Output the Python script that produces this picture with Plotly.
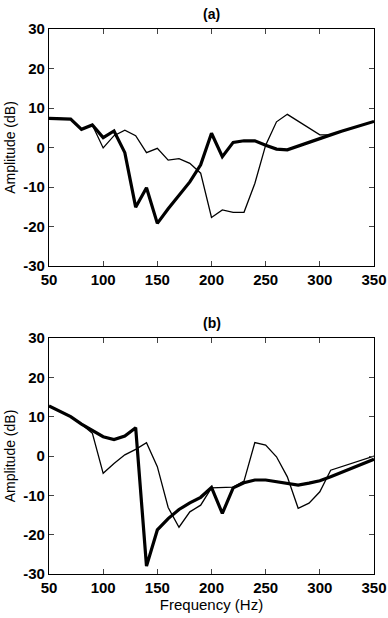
import plotly.graph_objects as go
from plotly.subplots import make_subplots

freq = [50, 60, 70, 80, 90, 100, 110, 120, 130, 140, 150, 160, 170, 180, 190, 200,
        210, 220, 230, 240, 250, 260, 270, 280, 290, 300, 310, 320, 330, 340, 350]

a_thick = [7.4, 7.4, 7.2, 4.6, 5.7, 2.5, 4.2, -1.3, -15.1, -10.2, -19.2, -15.5, -12.0, -8.7, -4.4, 3.6,
           -2.3, 1.3, 1.7, 1.7, 0.6, -0.4, -0.6, 0.4, 1.4, 2.3, 3.2, 4.1, 5.0, 5.8, 6.6]
a_thin = [7.4, 7.4, 7.2, 4.6, 5.7, -0.1, 3.0, 4.4, 3.0, -1.3, -0.2, -3.2, -2.8, -4.0, -6.5, -17.7,
          -15.8, -16.4, -16.4, -9.1, 0.6, 6.5, 8.4, 6.7, 5.0, 3.2, 3.2, 4.1, 5.0, 5.8, 6.6]

b_thick = [12.7, 11.4, 10.0, 8.1, 6.4, 4.9, 4.2, 5.1, 7.2, -28.0, -18.8, -15.9, -13.6, -11.9, -10.5, -8.0,
           -14.6, -8.1, -6.8, -6.1, -6.1, -6.5, -7.1, -7.4, -6.9, -6.3, -5.3, -4.2, -3.0, -2.0, -0.8]
b_thin = [12.7, 11.4, 10.0, 8.1, 5.8, -4.4, -1.9, 0.3, 1.7, 3.4, -2.7, -13.1, -18.1, -14.2, -12.5, -8.1,
          -8.0, -7.9, -6.4, 3.4, 2.8, -0.2, -5.3, -13.3, -12.0, -9.1, -3.6, -2.7, -1.8, -0.9, 0.0]

xticks = [50, 100, 150, 200, 250, 300, 350]
yticks = [-30, -20, -10, 0, 10, 20, 30]
panel_titles = ["(a)", "(b)"]

FONT = "Liberation Sans, Arial, sans-serif"

fig = make_subplots(rows=2, cols=1, vertical_spacing=0.1)
fig.update_layout(
    yaxis=dict(domain=[0.5651, 1.0]),
    yaxis2=dict(domain=[0.0, 0.433]),
)

for row, (thick, thin) in enumerate([(a_thick, a_thin), (b_thick, b_thin)], start=1):
    fig.add_trace(go.Scatter(x=freq, y=thin, mode="lines",
                             line=dict(color="black", width=1.3), showlegend=False), row=row, col=1)
    fig.add_trace(go.Scatter(x=freq, y=thick, mode="lines",
                             line=dict(color="black", width=3.2), showlegend=False), row=row, col=1)

tickfont = dict(family=FONT, size=15, color="black")
for row in (1, 2):
    fig.update_xaxes(range=[50, 350], tickvals=xticks, ticktext=[f"<b>{t}</b>" for t in xticks],
                     ticks="inside", ticklen=5, mirror="ticks", showline=True, linecolor="black",
                     linewidth=1.3, showgrid=False, zeroline=False, tickfont=tickfont,
                     automargin=False, row=row, col=1)
    fig.update_yaxes(range=[-30, 30], tickvals=yticks, ticktext=[f"<b>{t}</b>" for t in yticks],
                     ticks="inside", ticklen=5, mirror="ticks", showline=True, linecolor="black",
                     linewidth=1.3, showgrid=False, zeroline=False, tickfont=tickfont,
                     automargin=False,
                     title=dict(text="Amplitude (dB)", standoff=4,
                                font=dict(family=FONT, size=14, color="black")),
                     row=row, col=1)

fig.update_xaxes(title=dict(text="Frequency (Hz)", standoff=3,
                            font=dict(family=FONT, size=15, color="black")),
                 row=2, col=1)

fig.add_annotation(text="<b>" + panel_titles[0] + "</b>", x=200, y=1.0, xref="x", yref="paper",
                   yanchor="bottom", yshift=5, showarrow=False,
                   font=dict(family=FONT, size=14, color="black"))
fig.add_annotation(text="<b>" + panel_titles[1] + "</b>", x=200, y=0.433, xref="x2", yref="paper",
                   yanchor="bottom", yshift=5, showarrow=False,
                   font=dict(family=FONT, size=14, color="black"))

fig.update_layout(width=388, height=618, margin=dict(l=49, r=14, t=29, b=44),
                  plot_bgcolor="white", paper_bgcolor="white")

fig.write_html("out.html")
